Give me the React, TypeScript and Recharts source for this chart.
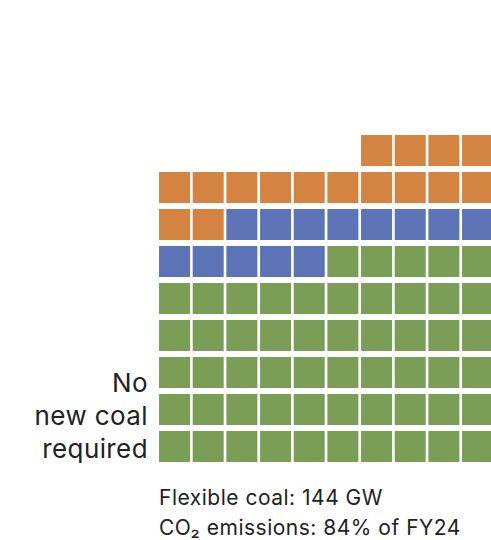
import { ScatterChart, Scatter, XAxis, YAxis } from "recharts";

// waffle counts, one cell = 1% of FY24 emissions
const seriesNames = ["Existing coal", "Under construction", "Planned"];
const seriesCounts = [55, 13, 16];
const seriesColors = ["#7a9e55", "#5c74b6", "#d48341"];

const COLS = 10;
const ROWS = 9;

const sideLabel = ["No", "new coal", "required"];
const footLines = ["Flexible coal: 144 GW", "CO\u2082 emissions: 84% of FY24"];

// fill from the bottom row up, right to left
const buildCells = () => {
  let idx = 0;
  return seriesCounts.map((n) => {
    const pts: { col: number; row: number }[] = [];
    for (let i = 0; i < n; i++) {
      const r = Math.floor(idx / COLS);
      const c = idx % COLS;
      pts.push({ col: COLS - c, row: ROWS - r });
      idx++;
    }
    return pts;
  });
};

const cells = buildCells();

const Square = (props: any) => {
  const { cx, cy, fill } = props;
  return <rect x={cx - 15.5} y={cy - 15.5} width={31} height={31} fill={fill} />;
};

const font = "Inter, 'Noto Sans', sans-serif";

export default function App() {
  return (
    <div style={{ position: "absolute", left: 0, top: 0, width: 491, height: 540, overflow: "hidden", background: "#fff" }}>
      <ScatterChart width={500} height={540} margin={{ top: 132, right: 5.6, bottom: 75, left: 157.7 }}>
        <XAxis type="number" dataKey="col" domain={[0.5, 10.5]} hide />
        <YAxis type="number" dataKey="row" domain={[0.5, 9.5]} reversed hide />
        {cells.map((pts, i) => (
          <Scatter
            key={seriesNames[i]}
            name={seriesNames[i]}
            data={pts}
            fill={seriesColors[i]}
            shape={Square}
            isAnimationActive={false}
          />
        ))}
      </ScatterChart>
      <svg width={491} height={540} style={{ position: "absolute", left: 0, top: 0, pointerEvents: "none" }}>
        {sideLabel.map((s, i) => (
          <text
            key={s}
            x={148}
            y={392 + i * 33}
            textAnchor="end"
            fontFamily={font}
            fontSize={26}
            letterSpacing={0.4}
            fill="#222"
          >
            {s}
          </text>
        ))}
        {footLines.map((s, i) => (
          <text key={s} x={159} y={505 + i * 30} fontFamily={font} fontSize={21} letterSpacing={0.5} fill="#222">
            {s}
          </text>
        ))}
      </svg>
    </div>
  );
}
